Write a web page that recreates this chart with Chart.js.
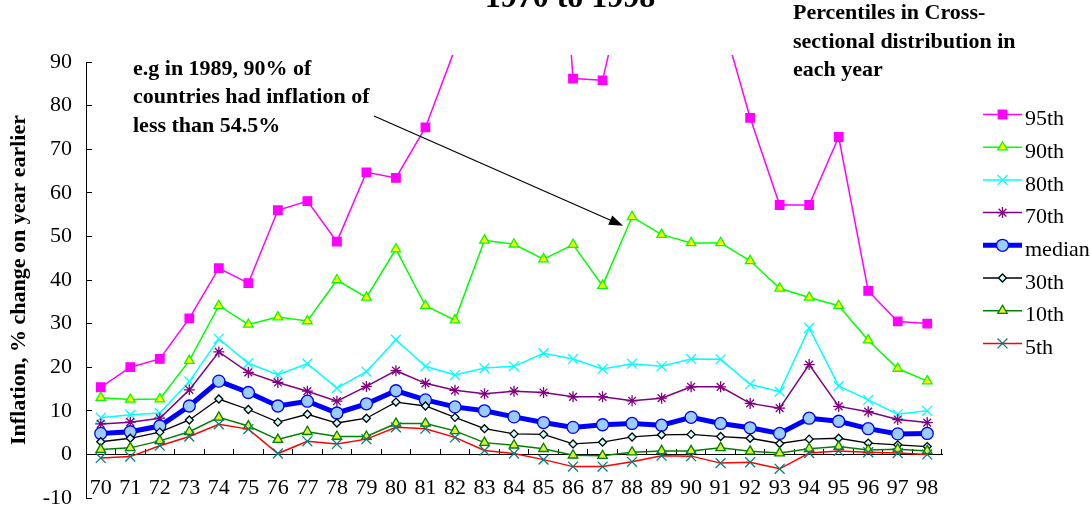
<!DOCTYPE html>
<html>
<head>
<meta charset="utf-8">
<script src="https://cdn.jsdelivr.net/npm/chart.js@4.4.1/dist/chart.umd.min.js"></script>
<style>
  html, body { margin: 0; padding: 0; background: #fff; }
  #wrap { position: relative; width: 1091px; height: 510px; }
</style>
</head>
<body>
<div id="wrap"><canvas id="chart"></canvas></div>
<script>
const years = ['70','71','72','73','74','75','76','77','78','79','80','81','82','83','84',
  '85','86','87','88','89','90','91','92','93','94','95','96','97','98'];

// values above 90 are off the chart in the original (clipped)
const p95 = [15.4, 20.0, 21.9, 31.2, 42.7, 39.3, 56.0, 58.1, 48.8, 64.7, 63.4, 75.0, 93, 120, 150,
  180, 86.2, 85.8, 115, 130, 140, 101, 77.2, 57.2, 57.2, 72.8, 37.5, 30.5, 30.0];
const p90 = [13.0, 12.6, 12.7, 21.5, 34.1, 29.8, 31.5, 30.6, 40.0, 36.0, 47.1, 34.1, 30.8, 49.1, 48.2,
  44.8, 48.1, 38.7, 54.5, 50.4, 48.5, 48.5, 44.4, 38.1, 36.0, 34.1, 26.2, 19.7, 16.8];
const p80 = [8.4, 9.1, 9.5, 16.7, 26.5, 20.9, 18.3, 20.8, 15.2, 19.0, 26.3, 20.2, 18.2, 19.8, 20.2,
  23.2, 21.9, 19.6, 20.8, 20.2, 21.9, 21.8, 16.1, 14.4, 29.0, 15.7, 12.5, 9.2, 10.0];
const p70 = [7.0, 7.4, 8.3, 14.8, 23.5, 18.8, 16.5, 14.5, 12.2, 15.6, 19.2, 16.3, 14.7, 13.9, 14.5,
  14.2, 13.2, 13.2, 12.3, 12.9, 15.5, 15.5, 11.7, 10.6, 20.6, 11.0, 9.8, 8.0, 7.3];
const median = [4.8, 5.2, 6.5, 11.1, 16.8, 14.2, 11.1, 12.2, 9.5, 11.6, 14.6, 12.5, 10.9, 10.0, 8.6,
  7.3, 6.2, 6.8, 7.1, 6.7, 8.5, 7.1, 6.1, 4.8, 8.3, 7.6, 5.9, 4.7, 4.8];
const p30 = [2.9, 3.7, 5.1, 7.9, 12.7, 10.3, 7.4, 9.2, 7.2, 8.3, 12.0, 11.1, 8.5, 5.9, 4.7,
  4.6, 2.4, 2.8, 4.0, 4.5, 4.6, 4.1, 3.7, 2.5, 3.5, 3.7, 2.6, 2.2, 1.8];
const p10 = [1.1, 1.5, 3.1, 5.2, 8.5, 6.5, 3.4, 5.2, 4.1, 4.1, 7.1, 7.1, 5.4, 2.7, 2.1,
  1.3, -0.2, -0.3, 0.5, 0.8, 0.8, 1.5, 0.7, 0.3, 1.3, 1.8, 1.0, 1.2, 0.8];
const p5 = [-0.8, -0.5, 2.0, 4.1, 6.9, 5.8, 0.2, 3.0, 2.4, 3.5, 6.2, 5.9, 3.9, 0.9, 0.2,
  -1.2, -2.8, -2.8, -1.7, -0.3, -0.4, -2.0, -1.8, -3.3, 0.3, 0.8, 0.5, 0.3, 0.0];

const yMin = -10, yMax = 90, yStep = 10;
const yTitle = 'Inflation, % change on year earlier';
const titleText = '1970 to 1998';
const captionLines = ['Percentiles in Cross-', 'sectional distribution in', 'each year'];
const noteLines = ['e.g in 1989, 90% of', 'countries had inflation of', 'less than 54.5%'];
const noteYear = '88', noteValue = 54.5;

const serif = "'Liberation Serif', 'Times New Roman', serif";

function series(label, data, color, width, style, radius, fill, border, order) {
  return {
    label: label,
    data: data,
    borderColor: color,
    backgroundColor: color,
    borderWidth: width,
    pointStyle: style,
    pointRadius: radius,
    pointHoverRadius: radius,
    pointBackgroundColor: fill,
    pointBorderColor: border,
    pointBorderWidth: 1.3,
    tension: 0,
    order: order,
    clip: {left: 10, top: 7, right: 10, bottom: 10}
  };
}

const datasets = [
  series('95th', p95, '#ff00ff', 1.5, 'rect', 6, '#ff00ff', '#ff00ff', 8),
  series('90th', p90, '#00ff00', 1.5, 'triangle', 5.5, '#ffff00', '#00ff00', 7),
  series('80th', p80, '#00ffff', 1.5, 'crossRot', 7, '#00ffff', '#00ffff', 6),
  series('70th', p70, '#800080', 1.5, 'star', 5.5, '#800080', '#800080', 5),
  series('median', median, '#0000ff', 5, 'circle', 6, '#99ccff', '#0000ff', 4),
  series('30th', p30, '#000000', 1.3, 'rectRot', 4, '#ccffff', '#000000', 3),
  series('10th', p10, '#008000', 1.5, 'triangle', 5.5, '#ddee33', '#008000', 2),
  series('5th', p5, '#ff0000', 1.5, 'crossRot', 7, '#008080', '#008080', 1)
];

// texts, arrow and legend drawn over the chart
const overlay = {
  id: 'overlay',
  afterDraw(chart) {
    const ctx = chart.ctx;
    ctx.save();
    ctx.fillStyle = '#000';
    ctx.textBaseline = 'alphabetic';

    ctx.font = 'bold 32px ' + serif;
    ctx.textAlign = 'center';
    ctx.fillText(titleText, 570, 7);

    ctx.textAlign = 'left';
    ctx.font = 'bold 22px ' + serif;
    captionLines.forEach((t, i) => ctx.fillText(t, 793, 19 + i * 28.5));

    noteLines.forEach((t, i) => ctx.fillText(t, 133, 74.5 + i * 28.5));

    // arrow to the 1989 point of the 90th percentile
    const xs = chart.scales.x, ys = chart.scales.y;
    const tx = xs.getPixelForValue(years.indexOf(noteYear)) - 9;
    const ty = ys.getPixelForValue(noteValue) + 9;
    const sx = 374, sy = 116;
    const ang = Math.atan2(ty - sy, tx - sx);
    ctx.strokeStyle = '#000';
    ctx.lineWidth = 1.2;
    ctx.beginPath();
    ctx.moveTo(sx, sy);
    ctx.lineTo(tx - Math.cos(ang) * 10, ty - Math.sin(ang) * 10);
    ctx.stroke();
    ctx.beginPath();
    ctx.moveTo(tx, ty);
    ctx.lineTo(tx - Math.cos(ang) * 14 + Math.sin(ang) * 5, ty - Math.sin(ang) * 14 - Math.cos(ang) * 5);
    ctx.lineTo(tx - Math.cos(ang) * 14 - Math.sin(ang) * 5, ty - Math.sin(ang) * 14 + Math.cos(ang) * 5);
    ctx.closePath();
    ctx.fill();

    // legend: line sample with marker, label to the right
    ctx.font = '22px ' + serif;
    ctx.textBaseline = 'middle';
    chart.data.datasets.forEach((ds, i) => {
      const y = 114.5 + i * 32.7;
      ctx.strokeStyle = ds.borderColor;
      ctx.lineWidth = ds.borderWidth;
      ctx.beginPath();
      ctx.moveTo(983, y);
      ctx.lineTo(1022, y);
      ctx.stroke();
      ctx.fillStyle = ds.pointBackgroundColor;
      ctx.strokeStyle = ds.pointBorderColor;
      ctx.lineWidth = ds.pointBorderWidth;
      Chart.helpers.drawPoint(ctx, {
        pointStyle: ds.pointStyle, radius: ds.pointRadius, rotation: 0, borderWidth: ds.pointBorderWidth
      }, 1002.5, y);
      ctx.fillStyle = '#000';
      ctx.fillText(ds.label, 1025, y + 5);
    });
    ctx.restore();
  }
};

new Chart(document.getElementById('chart'), {
  type: 'line',
  data: { labels: years, datasets: datasets },
  plugins: [overlay],
  options: {
    responsive: true,
    maintainAspectRatio: false,
    animation: false,
    layout: { padding: { top: 62, right: 149, bottom: 12, left: 0 } },
    plugins: {
      legend: { display: false },
      tooltip: { enabled: false }
    },
    scales: {
      x: {
        position: { y: 0 },
        offset: true,
        grid: { offset: true, drawOnChartArea: false, tickLength: -6, color: '#000', lineWidth: 1 },
        border: { color: '#000', width: 1 },
        ticks: { color: '#000', font: { family: serif, size: 22 }, padding: 27, maxRotation: 0, autoSkip: false }
      },
      y: {
        min: yMin,
        max: yMax,
        ticks: { stepSize: yStep, color: '#000', font: { family: serif, size: 22 }, padding: 20 },
        grid: { drawOnChartArea: false, tickLength: -6, color: '#000', lineWidth: 1 },
        border: { color: '#000', width: 1 },
        title: {
          display: true, text: yTitle, color: '#000',
          font: { family: serif, size: 22, weight: 'bold' },
          padding: { top: 6, bottom: 0 }
        },
        afterFit(scale) {
          scale.width = 86;
          scale.paddingTop = 0;
          scale.paddingBottom = 0;
        }
      }
    }
  }
});
</script>
</body>
</html>
